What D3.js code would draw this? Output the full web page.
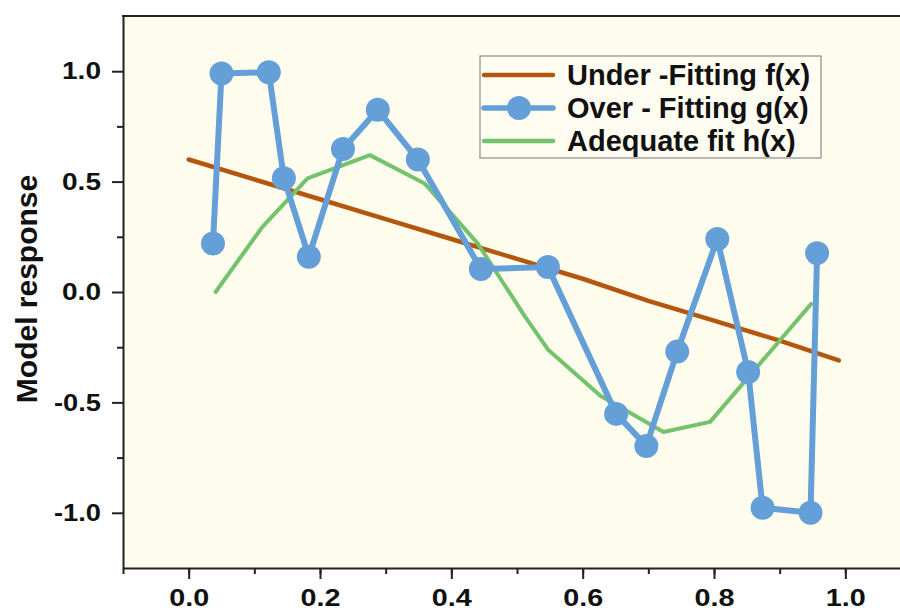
<!DOCTYPE html>
<html>
<head>
<meta charset="utf-8">
<script src="https://cdn.jsdelivr.net/npm/d3@7"></script>
<style>
  body { margin: 0; background: #fff; }
  text { font-family: "Liberation Sans", Arial, sans-serif; font-weight: bold; fill: #111; }
</style>
</head>
<body>
<svg width="900" height="610"></svg>
<script>
// values
const underX = [0.0, 0.1, 0.2, 0.3, 0.4, 0.5, 0.6, 0.7, 0.8, 0.9, 0.99];
const underY = [0.60, 0.51, 0.42, 0.33, 0.24, 0.15, 0.06, -0.04, -0.13, -0.22, -0.31];

const overX = [0.037, 0.05, 0.122, 0.145, 0.183, 0.235, 0.288, 0.349, 0.445, 0.547,
               0.651, 0.697, 0.744, 0.805, 0.852, 0.874, 0.947, 0.957];
const overY = [0.22, 0.99, 0.995, 0.515, 0.16, 0.648, 0.825, 0.60, 0.104, 0.113,
               -0.552, -0.697, -0.27, 0.24, -0.362, -0.977, -1.0, 0.176];

const adeqX = [0.041, 0.111, 0.181, 0.276, 0.36, 0.44, 0.512, 0.547, 0.627, 0.723, 0.794, 0.948];
const adeqY = [0.0, 0.29, 0.515, 0.62, 0.49, 0.22, -0.11, -0.26, -0.47, -0.634, -0.588, -0.054];

const xTicks = [0.0, 0.2, 0.4, 0.6, 0.8, 1.0];
const yTicks = [-1.0, -0.5, 0.0, 0.5, 1.0];

const seriesNames = ["Under -Fitting f(x)", "Over - Fitting g(x)", "Adequate fit h(x)"];
const colors = ["#b5560e", "#659fd8", "#74c26c"];

const svg = d3.select("svg");
const plotLeft = 123, plotTop = 16, plotBottom = 568;

const x = d3.scaleLinear().domain([-0.1, 1.1]).range([plotLeft, 911]);
const y = d3.scaleLinear().domain([-1.25, 1.25]).range([plotBottom, plotTop]);

// plain hyphen for negatives, like the original
const fmt = d => d.toFixed(1);

// plot background
svg.append("rect")
  .attr("x", plotLeft).attr("y", plotTop)
  .attr("width", 900 - plotLeft).attr("height", plotBottom - plotTop)
  .attr("fill", "#fefcec");

const plot = svg.append("g");

const zip = (xs, ys) => xs.map((v, i) => [v, ys[i]]);
const line = d3.line().x(d => x(d[0])).y(d => y(d[1]));

plot.append("path")
  .datum(zip(underX, underY))
  .attr("d", line)
  .attr("fill", "none").attr("stroke", colors[0])
  .attr("stroke-width", 4.5).attr("stroke-linecap", "round").attr("stroke-linejoin", "round");

plot.append("path")
  .datum(zip(adeqX, adeqY))
  .attr("d", line)
  .attr("fill", "none").attr("stroke", colors[2])
  .attr("stroke-width", 4).attr("stroke-linecap", "round").attr("stroke-linejoin", "round");

plot.append("path")
  .datum(zip(overX, overY))
  .attr("d", line)
  .attr("fill", "none").attr("stroke", colors[1])
  .attr("stroke-width", 6).attr("stroke-linejoin", "round");

plot.selectAll("circle.over")
  .data(zip(overX, overY))
  .enter().append("circle")
  .attr("class", "over")
  .attr("cx", d => x(d[0])).attr("cy", d => y(d[1]))
  .attr("r", 12)
  .attr("fill", colors[1]);

// axes
const xAxis = svg.append("g")
  .attr("transform", "translate(0," + plotBottom + ")")
  .call(d3.axisBottom(x).tickValues(xTicks).tickFormat(fmt).tickSize(11).tickSizeOuter(0));

svg.append("g")
  .attr("transform", "translate(0," + plotBottom + ")")
  .call(d3.axisBottom(x).tickValues(d3.range(-0.1, 1.11, 0.1)).tickFormat("").tickSize(6).tickSizeOuter(0))
  .select(".domain").remove();

const yAxis = svg.append("g")
  .attr("transform", "translate(" + plotLeft + ",0)")
  .call(d3.axisLeft(y).tickValues(yTicks).tickFormat(fmt).tickSize(11).tickSizeOuter(0));

svg.append("g")
  .attr("transform", "translate(" + plotLeft + ",0)")
  .call(d3.axisLeft(y).tickValues([-0.75, -0.25, 0.25, 0.75]).tickFormat("").tickSize(6).tickSizeOuter(0))
  .select(".domain").remove();

svg.selectAll(".domain, .tick line").attr("stroke", "#222").attr("stroke-width", 2);

xAxis.selectAll(".tick text")
  .attr("font-size", 24).attr("dy", "1.02em")
  .attr("textLength", 40).attr("lengthAdjust", "spacingAndGlyphs")
  .style("font-family", "'Liberation Sans', Arial, sans-serif");

yAxis.selectAll(".tick text")
  .attr("font-size", 24).attr("x", -22)
  .attr("textLength", d => d < 0 ? 47 : 39).attr("lengthAdjust", "spacingAndGlyphs")
  .style("font-family", "'Liberation Sans', Arial, sans-serif");

// top frame line
svg.append("line")
  .attr("x1", plotLeft - 1).attr("x2", 900).attr("y1", plotTop).attr("y2", plotTop)
  .attr("stroke", "#222").attr("stroke-width", 2);

// y axis title
svg.append("text")
  .attr("transform", "translate(37,289) rotate(-90)")
  .attr("text-anchor", "middle")
  .attr("font-size", 30)
  .text("Model response");

// legend
const legend = svg.append("g");
legend.append("rect")
  .attr("x", 480).attr("y", 56).attr("width", 341).attr("height", 102)
  .attr("fill", "#fffdf2").attr("stroke", "#8a8a8a").attr("stroke-width", 1.2);

const rowY = [75, 108, 141];
const rows = legend.selectAll("g.row")
  .data(seriesNames)
  .enter().append("g")
  .attr("class", "row")
  .attr("transform", (d, i) => "translate(0," + rowY[i] + ")");

rows.append("line")
  .attr("x1", 484).attr("x2", 553)
  .attr("stroke", (d, i) => colors[i])
  .attr("stroke-width", (d, i) => i === 1 ? 5.5 : 4.5)
  .attr("stroke-linecap", "round");

rows.filter((d, i) => i === 1).append("circle")
  .attr("cx", 519).attr("r", 12).attr("fill", colors[1]);

rows.append("text")
  .attr("x", 567).attr("dy", "0.36em")
  .attr("font-size", 29)
  .text(d => d);
</script>
</body>
</html>
